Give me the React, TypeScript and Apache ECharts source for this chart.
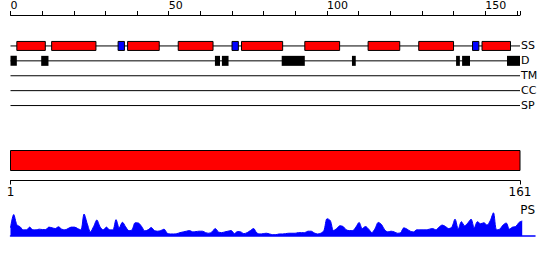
import React, { useEffect, useRef } from "react";
import * as echarts from "echarts";

const SEQ_LENGTH = 161;
const TRACKS = ["SS", "D", "TM", "CC", "SP"];
const HELICES: number[][] = [
  [2, 11], [13, 27], [37, 47], [53, 64], [73, 86], [93, 104],
  [113, 123], [129, 140], [149, 158],
];
const STRANDS: number[][] = [[34, 36], [70, 72], [146, 148]];
const DISORDER: number[][] = [
  [0, 2], [9.7, 12], [64.6, 66.2], [66.8, 68.9], [85.7, 93],
  [107.9, 109.1], [140.8, 142], [142.7, 145.2], [156.9, 161],
];
const DOMAINS: number[][] = [[1, 161]];
const PS_VALUES = [
  8, 21, 11, 9, 6, 6, 8.7, 6, 6, 6.7,
  6.3, 6.3, 8.7, 8, 7.3, 9, 6.7, 6, 7.3, 8.7,
  8.7, 7.3, 6, 21.5, 12, 4, 9.3, 15.7, 9, 6,
  8.7, 6, 6, 16, 8, 13.5, 9, 5.3, 6, 13,
  12.7, 9.3, 5, 6, 8.3, 5.3, 4.7, 5.3, 6.7, 2.7,
  2, 2, 2.3, 3.3, 4, 4.7, 5.3, 4, 4.3, 4.7,
  4.7, 3.3, 2.7, 4, 7.3, 4, 3.3, 4, 4.7, 5.3,
  2.3, 4.3, 4, 2.3, 3.3, 5.3, 7.3, 3, 2, 2.3,
  2.7, 2, 1.3, 1.3, 2, 2, 2.3, 2.7, 2.7, 2.7,
  3.3, 3.3, 3.3, 4.7, 4.7, 3, 2, 2.7, 5.3, 17,
  15, 5.3, 7.3, 10, 9.3, 6, 5.3, 5.3, 8.7, 13.3,
  7.3, 9.3, 6.7, 3.3, 7.3, 13.3, 11.3, 6, 4, 4.7,
  4, 2.7, 3.3, 8, 6.7, 4.7, 4, 6, 6, 6,
  6, 6.7, 7.3, 6, 8.7, 10.7, 9.3, 7.3, 8.7, 16.5,
  7, 14, 10, 12.7, 16.5, 8, 14, 12, 13, 10.7,
  15, 22.7, 6, 6.7, 10.7, 12.7, 6.7, 8.7, 9.3, 13.3, 14.7,
];

const FONT = "DejaVu Sans";

export default function App() {
  const ref = useRef<HTMLDivElement>(null);
  useEffect(() => {
    if (!ref.current) return;
    const chart = echarts.init(ref.current, undefined, { renderer: "svg" });

    const rectItem = (fill: string, stroke: string | null, h: number) =>
      (params: any, api: any) => {
        const s = api.coord([api.value(0), api.value(2)]);
        const e = api.coord([api.value(1), api.value(2)]);
        return {
          type: "rect",
          shape: { x: s[0], y: s[1] - h / 2, width: e[0] - s[0], height: h },
          style: { fill, stroke: stroke || undefined, lineWidth: stroke ? 1 : 0 },
        };
      };

    const ssData = [
      ...HELICES.map((d) => [d[0], d[1], 0, "H"]),
      ...STRANDS.map((d) => [d[0], d[1], 0, "E"]),
    ];

    chart.setOption({
      animation: false,
      grid: [
        { left: 10.5, right: 30, top: 38, height: 75 },
        { left: 10.5, right: 30, top: 150.5, height: 20 },
        { left: 10.5, right: 15, top: 212.5, height: 23.5 },
      ],
      xAxis: [
        {
          gridIndex: 0, type: "value", position: "top", offset: 23.5,
          min: 0, max: SEQ_LENGTH, interval: 10,
          axisLine: { show: true, onZero: false, lineStyle: { color: "#000", width: 1 } },
          axisTick: { show: true, length: 4, lineStyle: { color: "#000" } },
          splitLine: { show: false },
          axisLabel: {
            color: "#000", fontFamily: FONT, fontSize: 11, align: "left", margin: 4,
            formatter: (v: number) => (v % 50 === 0 ? String(v) : ""),
          },
        },
        {
          gridIndex: 1, type: "value", position: "bottom", offset: 10,
          min: 1, max: SEQ_LENGTH,
          axisLine: { show: true, onZero: false, lineStyle: { color: "#000", width: 1 } },
          axisTick: { show: true, length: 4, customValues: [1, SEQ_LENGTH], lineStyle: { color: "#000" } },
          splitLine: { show: false },
          axisLabel: {
            color: "#000", fontFamily: FONT, fontSize: 12, margin: 5,
            customValues: [1, SEQ_LENGTH],
          },
        },
        {
          gridIndex: 2, type: "value", min: 1, max: 165,
          axisLine: { show: true, onZero: false, lineStyle: { color: "#0000ff", width: 1.5 } },
          axisTick: { show: false }, axisLabel: { show: false }, splitLine: { show: false },
        },
      ],
      yAxis: [
        {
          gridIndex: 0, type: "category", data: TRACKS, inverse: true, position: "right",
          axisLine: { show: false }, axisTick: { show: false }, splitLine: { show: false },
          axisLabel: { color: "#000", fontFamily: FONT, fontSize: 11, margin: 1 },
        },
        {
          gridIndex: 1, type: "value", min: 0, max: 1,
          axisLine: { show: false }, axisTick: { show: false },
          axisLabel: { show: false }, splitLine: { show: false },
        },
        {
          gridIndex: 2, type: "value", min: 0, max: 23,
          axisLine: { show: false }, axisTick: { show: false },
          axisLabel: { show: false }, splitLine: { show: false },
        },
      ],
      graphic: [
        {
          type: "text", right: 15, top: 204,
          style: { text: "PS", fill: "#000", font: `12px "${FONT}"` },
        },
      ],
      series: [
        {
          type: "custom", name: "tracks", xAxisIndex: 0, yAxisIndex: 0,
          data: TRACKS.map((t, i) => [0, SEQ_LENGTH, i]),
          encode: { x: [0, 1], y: 2 },
          renderItem: (params: any, api: any) => {
            const s = api.coord([api.value(0), api.value(2)]);
            const e = api.coord([api.value(1), api.value(2)]);
            return {
              type: "line",
              shape: { x1: s[0], y1: s[1], x2: e[0], y2: e[1] },
              style: { stroke: "#000", lineWidth: 1 },
            };
          },
        },
        {
          type: "custom", name: "SS", xAxisIndex: 0, yAxisIndex: 0,
          data: ssData, encode: { x: [0, 1], y: 2 },
          renderItem: (params: any, api: any) => {
            const kind = ssData[params.dataIndex][3];
            return rectItem(kind === "H" ? "#ff0000" : "#0000ff", "#000", 9)(params, api);
          },
        },
        {
          type: "custom", name: "D", xAxisIndex: 0, yAxisIndex: 0,
          data: DISORDER.map((d) => [d[0], d[1], 1]), encode: { x: [0, 1], y: 2 },
          renderItem: rectItem("#000", null, 10),
        },
        {
          type: "custom", name: "domain", xAxisIndex: 1, yAxisIndex: 1,
          data: DOMAINS.map((d) => [d[0], d[1]]), encode: { x: [0, 1] },
          renderItem: (params: any, api: any) => {
            const s = api.coord([api.value(0), 1]);
            const e = api.coord([api.value(1), 0]);
            return {
              type: "rect",
              shape: { x: s[0], y: s[1], width: e[0] - s[0], height: e[1] - s[1] },
              style: { fill: "#ff0000", stroke: "#000", lineWidth: 1 },
            };
          },
        },
        {
          type: "line", name: "PS", xAxisIndex: 2, yAxisIndex: 2,
          data: PS_VALUES.map((v, i) => [i + 1, v]),
          symbol: "none", smooth: 0.3,
          lineStyle: { color: "#0000ff", width: 1 },
          areaStyle: { color: "#0000ff", opacity: 1 },
        },
      ],
    });
    return () => chart.dispose();
  }, []);
  return (
    <div
      ref={ref}
      style={{ position: "absolute", left: 0, top: 0, width: 550, height: 260 }}
    />
  );
}
